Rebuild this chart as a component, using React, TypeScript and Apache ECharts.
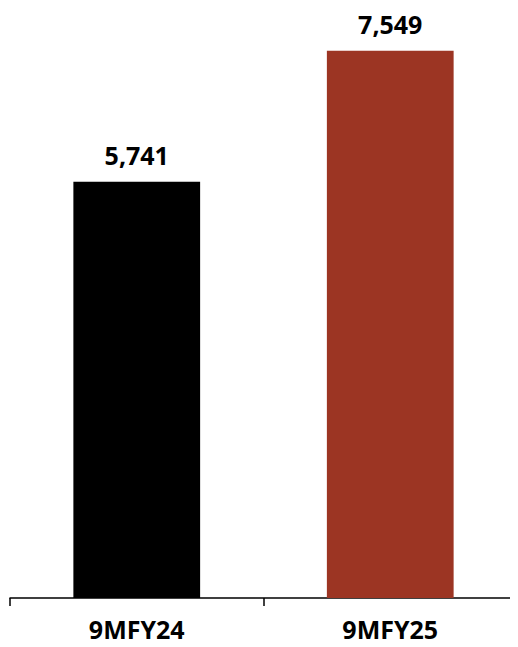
import React, { useEffect, useRef } from "react";
import * as echarts from "echarts";

const categories = ["9MFY24", "9MFY25"];
const values = [5741, 7549];
const colors = ["#000000", "#9C3523"];

export default function App() {
  const ref = useRef<HTMLDivElement>(null);
  useEffect(() => {
    if (!ref.current) return;
    const chart = echarts.init(ref.current, undefined, { renderer: "svg" });
    chart.setOption({
      animation: false,
      grid: { left: 10, right: 1, top: 18, bottom: 49, containLabel: false },
      xAxis: {
        type: "category",
        data: categories,
        axisLine: { show: true, lineStyle: { color: "#000", width: 1.5 } },
        axisTick: { show: true, length: 8, lineStyle: { color: "#000", width: 1.5 } },
        axisLabel: {
          margin: 18,
          color: "#000",
          fontSize: 25,
          fontWeight: "bold",
          fontFamily: "Open Sans",
        },
      },
      yAxis: {
        type: "value",
        min: 0,
        max: 8000,
        show: false,
        splitLine: { show: false },
      },
      series: [
        {
          type: "bar",
          barWidth: "50%",
          data: values.map((v, i) => ({ value: v, itemStyle: { color: colors[i] } })),
          label: {
            show: true,
            position: "top",
            distance: 14,
            color: "#000",
            fontSize: 25,
            fontWeight: "bold",
            fontFamily: "Open Sans",
            formatter: (p: any) => Number(p.value).toLocaleString("en-US"),
          },
        },
      ],
    });
    return () => chart.dispose();
  }, []);
  return <div ref={ref} style={{ width: 518, height: 647, margin: -8 }} />;
}
